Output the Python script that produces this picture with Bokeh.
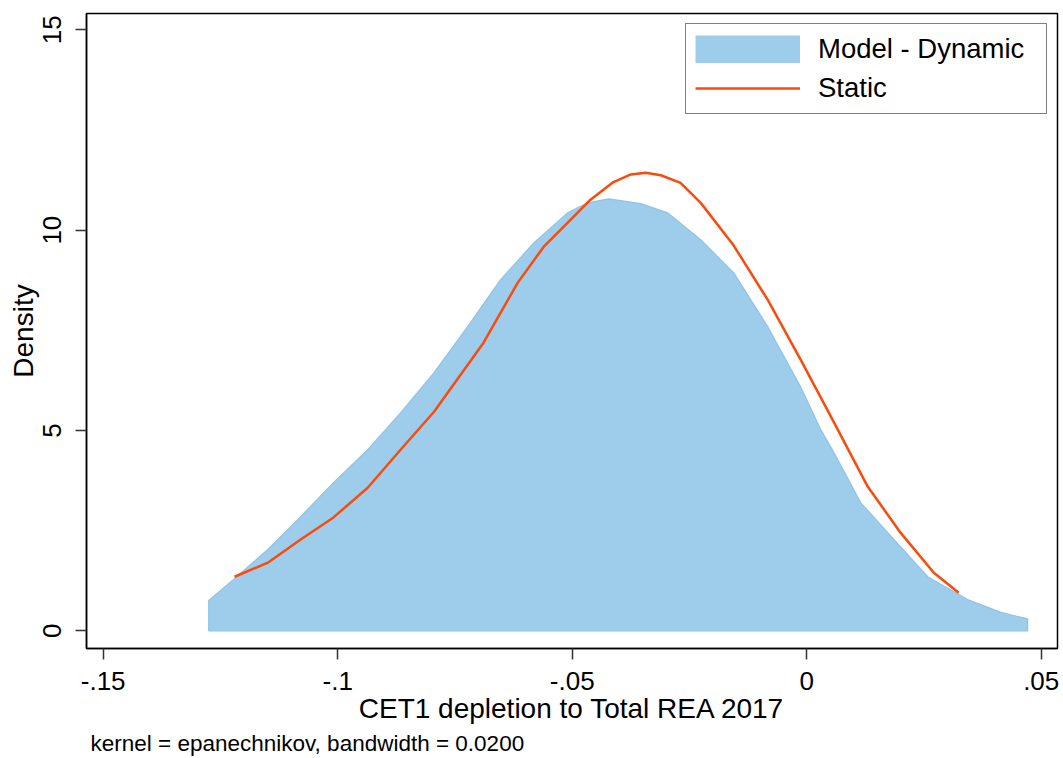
from bokeh.plotting import figure
from bokeh.models import Range1d, FixedTicker, Legend, LegendItem, Title
from bokeh.embed import file_html
from bokeh.resources import INLINE

# Model - Dynamic (kernel density, filled area)
dyn_x = [-0.1275, -0.1222, -0.1149, -0.1079, -0.1009, -0.0936, -0.0866, -0.0795,
         -0.0723, -0.0653, -0.0582, -0.0510, -0.0467, -0.0422, -0.0354, -0.0296,
         -0.0226, -0.0156, -0.0083, -0.0013, 0.0030, 0.0058, 0.0115, 0.0186,
         0.0258, 0.0343, 0.0414, 0.0471]
dyn_y = [0.76, 1.28, 2.03, 2.85, 3.70, 4.52, 5.44, 6.44,
         7.59, 8.76, 9.68, 10.43, 10.68, 10.78, 10.66, 10.43,
         9.76, 8.94, 7.59, 6.09, 5.02, 4.45, 3.20, 2.28,
         1.35, 0.78, 0.46, 0.30]

# Static (kernel density, line)
sta_x = [-0.1220, -0.1149, -0.1079, -0.1009, -0.0936, -0.0866, -0.0795,
         -0.0689, -0.0616, -0.0561, -0.0510, -0.0461, -0.0412, -0.0375, -0.0343,
         -0.0311, -0.0269, -0.0226, -0.0156, -0.0083, -0.0013, 0.0055, 0.0130,
         0.0200, 0.0271, 0.0324]
sta_y = [1.35, 1.70, 2.28, 2.83, 3.57, 4.52, 5.46,
         7.19, 8.69, 9.58, 10.18, 10.76, 11.20, 11.39, 11.43,
         11.37, 11.18, 10.68, 9.62, 8.26, 6.77, 5.27, 3.60,
         2.45, 1.45, 0.95]

x_ticks = [-0.15, -0.1, -0.05, 0, 0.05]
x_tick_labels = ["-.15", "-.1", "-.05", "0", ".05"]
y_ticks = [0, 5, 10, 15]
y_tick_labels = ["0", "5", "10", "15"]

FONT = "Liberation Sans"
BLUE = "#9dcdeb"
RED = "#fa4a0c"

p = figure(width=1060, height=758, output_backend="svg", toolbar_location=None,
           x_range=Range1d(-0.15356, 0.05347), y_range=Range1d(-0.441, 15.406),
           min_border_left=86, min_border_right=3, min_border_top=13, min_border_bottom=109)
p.background_fill_color = "white"
p.border_fill_color = "white"
p.outline_line_color = "black"
p.outline_line_width = 1.5
p.xgrid.grid_line_color = None
p.ygrid.grid_line_color = None

poly_x = [dyn_x[0]] + dyn_x + [dyn_x[-1]]
poly_y = [0] + dyn_y + [0]
r_dyn = p.patch(poly_x, poly_y, fill_color=BLUE, line_color="#8fc4e6", line_width=1.2)
r_sta = p.line(sta_x, sta_y, line_color=RED, line_width=2.5)
# legend swatch proxy: hidden thick butt-capped line -> full-size filled key rectangle
r_dyn_key = p.line(dyn_x, dyn_y, line_color=BLUE, line_width=28, line_cap="butt", visible=False)

for ax in (p.xaxis[0], p.yaxis[0]):
    ax.axis_line_color = "black"
    ax.axis_line_width = 1.5
    ax.major_tick_line_color = "#333333"
    ax.major_tick_line_width = 1.5
    ax.major_tick_out = 11
    ax.major_tick_in = 0
    ax.minor_tick_line_color = None
    ax.major_label_text_font = FONT
    ax.major_label_text_font_size = "26px"
    ax.major_label_text_color = "black"
    ax.axis_label_text_font = FONT
    ax.axis_label_text_font_size = "28px"
    ax.axis_label_text_font_style = "normal"
    ax.axis_label_text_color = "black"

p.xaxis.ticker = FixedTicker(ticks=x_ticks)
p.xaxis.major_label_overrides = {t: l for t, l in zip(x_ticks, x_tick_labels)}
p.yaxis.ticker = FixedTicker(ticks=y_ticks)
p.yaxis.major_label_overrides = {t: l for t, l in zip(y_ticks, y_tick_labels)}
p.yaxis.major_label_orientation = "vertical"
p.xaxis.axis_label = "CET1 depletion to Total REA 2017"
p.yaxis.axis_label = "Density"
p.xaxis.major_label_standoff = 12
p.xaxis.axis_label_standoff = 0
p.yaxis.major_label_standoff = 14
p.yaxis.axis_label_standoff = 2

legend = Legend(items=[LegendItem(label="Model - Dynamic", renderers=[r_dyn_key]),
                       LegendItem(label="Static", renderers=[r_sta])],
                location="top_right")
legend.margin = 10
legend.padding = 9
legend.spacing = 7
legend.glyph_width = 105
legend.glyph_height = 28
legend.label_standoff = 18
legend.label_width = 219
legend.label_text_font = FONT
legend.label_text_font_size = "27.5px"
legend.label_text_color = "black"
legend.border_line_color = "black"
legend.border_line_width = 1.5
legend.background_fill_color = "white"
legend.background_fill_alpha = 1.0
legend.inactive_fill_alpha = 0.0
legend.click_policy = "none"
p.add_layout(legend)

note = Title(text="kernel = epanechnikov, bandwidth = 0.0200", align="left",
             text_font=FONT, text_font_size="22.5px", text_font_style="normal",
             text_color="black", standoff=5, offset=4)
p.add_layout(note, "below")

open("out.html", "w").write(file_html(p, INLINE))
